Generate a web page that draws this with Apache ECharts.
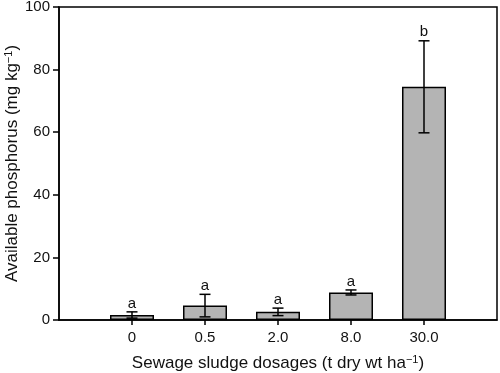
<!DOCTYPE html>
<html>
<head>
<meta charset="utf-8">
<script src="https://cdn.jsdelivr.net/npm/echarts@6/dist/echarts.min.js"></script>
<style>
  html, body { margin: 0; padding: 0; background: #fff; }
  #chart { width: 500px; height: 373px; }
</style>
</head>
<body>
<div id="chart"></div>
<script>
// data
var dosages = ['0', '0.5', '2.0', '8.0', '30.0'];
var means = [1.6, 4.6, 2.6, 8.8, 74.5];
var errors = [1.0, 3.6, 1.2, 0.8, 14.7];
var letters = ['a', 'a', 'a', 'a', 'b'];

// empty slots at both ends give the padding seen in the figure
var categories = [''].concat(dosages, ['']);

var barData = dosages.map(function (d, i) { return [d, means[i]]; });
var errData = dosages.map(function (d, i) { return [d, means[i], errors[i], letters[i]]; });

var font = 'Liberation Sans, Arial, Helvetica, sans-serif';
var supStyle = { fontFamily: font, fontSize: 11, color: '#111', verticalAlign: 'top', padding: [0, 0, 8, 0] };

var myChart = echarts.init(document.getElementById('chart'));
var option = {
  animation: false,
  grid: {
    left: 59, right: 3, top: 7, bottom: 53,
    outerBoundsMode: 'none',
    containLabel: false,
    show: true,
    borderColor: '#000',
    borderWidth: 1.5
  },
  xAxis: {
    type: 'category',
    data: categories,
    boundaryGap: false,
    name: 'Sewage sludge dosages (t dry wt ha{sup|\u22121})',
    nameLocation: 'middle',
    nameGap: 34,
    nameMoveOverlap: false,
    nameTextStyle: { fontFamily: font, fontSize: 17, color: '#111', rich: { sup: supStyle } },
    axisLine: { lineStyle: { color: '#000', width: 1.5 } },
    axisTick: {
      length: 5,
      lineStyle: { color: '#000', width: 1.5 },
      interval: function (index, value) { return value !== ''; }
    },
    axisLabel: {
      interval: 0,
      fontFamily: font, fontSize: 15, color: '#111', margin: 10
    },
    splitLine: { show: false }
  },
  yAxis: {
    type: 'value',
    min: 0,
    max: 100,
    interval: 20,
    name: 'Available phosphorus (mg kg{sup|\u22121})',
    nameLocation: 'middle',
    nameGap: 37,
    nameRotate: 90,
    nameMoveOverlap: false,
    nameTextStyle: { fontFamily: font, fontSize: 17, color: '#111', rich: { sup: supStyle } },
    axisLine: { show: true, lineStyle: { color: '#000', width: 1.5 } },
    axisTick: { show: true, length: 6, lineStyle: { color: '#000', width: 1.5 } },
    axisLabel: { fontFamily: font, fontSize: 15, color: '#111', margin: 9 },
    splitLine: { show: false }
  },
  series: [
    {
      type: 'bar',
      data: barData,
      barWidth: 44,
      itemStyle: { color: '#b4b4b4', borderColor: '#000', borderWidth: 1.5 }
    },
    {
      type: 'custom',
      data: errData,
      z: 10,
      renderItem: function (params, api) {
        var x = api.value(0);
        var m = api.value(1);
        var e = api.value(2);
        var hi = api.coord([x, m + e]);
        var lo = api.coord([x, m - e]);
        var cx = hi[0];
        var half = 5.5;
        var st = { stroke: '#000', lineWidth: 1.5 };
        return {
          type: 'group',
          children: [
            { type: 'line', shape: { x1: cx, y1: hi[1], x2: cx, y2: lo[1] }, style: st },
            { type: 'line', shape: { x1: cx - half, y1: hi[1], x2: cx + half, y2: hi[1] }, style: st },
            { type: 'line', shape: { x1: cx - half, y1: lo[1], x2: cx + half, y2: lo[1] }, style: st },
            {
              type: 'text',
              style: {
                text: letters[params.dataIndex],
                x: cx, y: hi[1] - 1,
                align: 'center', verticalAlign: 'bottom',
                font: '15px ' + font, fill: '#111'
              }
            }
          ]
        };
      }
    }
  ]
};
myChart.setOption(option, true);
</script>
</body>
</html>
